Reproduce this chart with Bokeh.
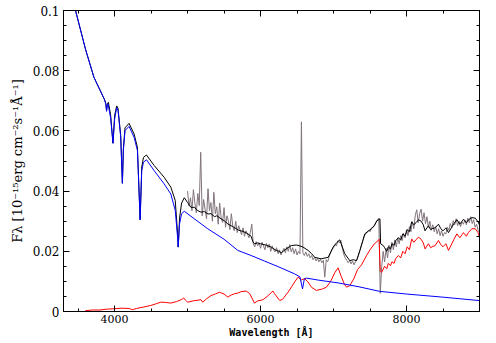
from bokeh.plotting import figure
from bokeh.models import FixedTicker, LinearAxis, CustomJSTickFormatter
from bokeh.embed import file_html
from bokeh.resources import INLINE

# ---- data ----
blue_wl = [3440, 3465, 3603, 3717, 3860, 3880, 3890, 3900, 3910, 3946, 3978, 4001, 4029,
           4047, 4084, 4107, 4120, 4143, 4198, 4267, 4313, 4350, 4372, 4396, 4437, 4542,
           4679, 4771, 4831, 4863, 4872, 4890, 4918, 4955, 5092, 5276, 5500, 5688, 5871,
           6050, 6250, 6467, 6540, 6575, 6600, 6628, 6800, 7063, 7350, 7630, 8000, 8484, 9010]
blue_flux = [0.1030, 0.1000, 0.0870, 0.0778, 0.0705, 0.0690, 0.0665, 0.0685, 0.0690, 0.0642,
             0.0559, 0.0640, 0.0677, 0.0668, 0.0579, 0.0426, 0.0535, 0.0601, 0.0615, 0.0579,
             0.0535, 0.0305, 0.0468, 0.0496, 0.0504, 0.0468, 0.0424, 0.0390, 0.0336, 0.0247,
             0.0214, 0.0291, 0.0325, 0.0333, 0.0308, 0.0275, 0.0240, 0.0203, 0.0186, 0.0168,
             0.0148, 0.0125, 0.0115, 0.0075, 0.0108, 0.0111, 0.0104, 0.0095, 0.0082, 0.0067,
             0.0058, 0.0048, 0.0036]

red_wl = [3600, 3700, 3800, 3900, 3992, 4100, 4200, 4244, 4300, 4400, 4496, 4560, 4634, 4700,
          4771, 4850, 4920, 4946, 4970, 5001, 5090, 5184, 5207, 5260, 5321, 5380, 5436, 5500,
          5551, 5600, 5642, 5700, 5734, 5803, 5850, 5917, 5960, 6032, 6100, 6169, 6192, 6261,
          6300, 6380, 6467, 6513, 6560, 6604, 6651, 6700, 6765, 6850, 6903, 6960, 7020, 7063,
          7100, 7150, 7178, 7223, 7280, 7330, 7384, 7450, 7500, 7560, 7613, 7625, 7640, 7659,
          7700, 7730, 7750, 7780, 7800, 7830, 7850, 7888, 7920, 7950, 7980, 8010, 8040, 8071,
          8100, 8130, 8163, 8200, 8230, 8254, 8300, 8330, 8350, 8392, 8438, 8470, 8500, 8540,
          8575, 8620, 8650, 8690, 8730, 8760, 8780, 8820, 8850, 8896, 8942, 8980, 9010]
red_flux = [0.0003, 0.0005, 0.0005, 0.0008, 0.0009, 0.0011, 0.0010, 0.0006, 0.0010, 0.0015,
            0.0020, 0.0025, 0.0031, 0.0030, 0.0028, 0.0033, 0.0040, 0.0045, 0.0038, 0.0031,
            0.0036, 0.0039, 0.0031, 0.0042, 0.0053, 0.0058, 0.0064, 0.0058, 0.0048, 0.0055,
            0.0059, 0.0062, 0.0066, 0.0068, 0.0060, 0.0028, 0.0035, 0.0039, 0.0052, 0.0068,
            0.0059, 0.0037, 0.0040, 0.0065, 0.0098, 0.0114, 0.0105, 0.0109, 0.0098, 0.0080,
            0.0070, 0.0075, 0.0081, 0.0100, 0.0130, 0.0145, 0.0120, 0.0090, 0.0081, 0.0086,
            0.0110, 0.0140, 0.0155, 0.0185, 0.0205, 0.0225, 0.0236, 0.0240, 0.0135, 0.0130,
            0.0150, 0.0142, 0.0160, 0.0152, 0.0165, 0.0160, 0.0175, 0.0186, 0.0178, 0.0200,
            0.0192, 0.0215, 0.0205, 0.0241, 0.0230, 0.0238, 0.0247, 0.0240, 0.0228, 0.0208,
            0.0225, 0.0212, 0.0215, 0.0219, 0.0236, 0.0222, 0.0215, 0.0225, 0.0203, 0.0225,
            0.0240, 0.0258, 0.0245, 0.0255, 0.0262, 0.0250, 0.0263, 0.0275, 0.0275, 0.0262, 0.0241]

model_wl = [3440, 3465, 3603, 3717, 3860, 3880, 3890, 3900, 3915, 3946, 3978, 4001, 4029,
            4047, 4084, 4107, 4120, 4143, 4198, 4267, 4313, 4350, 4372, 4396, 4437, 4542,
            4679, 4771, 4831, 4863, 4872, 4890, 4918, 4955, 5000, 5046, 5092, 5140, 5184,
            5230, 5280, 5321, 5370, 5400, 5459, 5510, 5551, 5620, 5700, 5760, 5826, 5870,
            5895, 5917, 5960, 6000, 6080, 6146, 6200, 6250, 6284, 6350, 6421, 6490, 6540,
            6582, 6651, 6700, 6742, 6830, 6926, 6994, 7040, 7085, 7154, 7223, 7270, 7315,
            7361, 7400, 7429, 7480, 7521, 7560, 7590, 7636, 7645, 7682, 7700, 7730, 7750,
            7780, 7800, 7830, 7850, 7888, 7920, 7950, 7980, 8010, 8040, 8071, 8100, 8130,
            8163, 8200, 8230, 8254, 8300, 8330, 8350, 8392, 8438, 8470, 8500, 8540, 8575,
            8620, 8650, 8690, 8730, 8760, 8780, 8820, 8850, 8896, 8942, 8980, 9010]
model_flux = [0.1030, 0.1000, 0.0870, 0.0778, 0.0705, 0.0690, 0.0667, 0.0688, 0.0695,
              0.0652, 0.0559, 0.0652, 0.0683, 0.0675, 0.0585, 0.0426, 0.0540, 0.0610,
              0.0625, 0.0590, 0.0545, 0.0305, 0.0480, 0.0512, 0.0520, 0.0485, 0.0446,
              0.0413, 0.0369, 0.0260, 0.0214, 0.0310, 0.0360, 0.0378, 0.0362, 0.0346,
              0.0346, 0.0335, 0.0330, 0.0332, 0.0324, 0.0325, 0.0315, 0.0318, 0.0308,
              0.0300, 0.0291, 0.0282, 0.0270, 0.0266, 0.0258, 0.0250, 0.0232, 0.0225,
              0.0228, 0.0225, 0.0220, 0.0214, 0.0205, 0.0200, 0.0195, 0.0208, 0.0219,
              0.0221, 0.0218, 0.0214, 0.0203, 0.0192, 0.0180, 0.0175, 0.0180, 0.0214,
              0.0228, 0.0238, 0.0192, 0.0169, 0.0172, 0.0169, 0.0203, 0.0235, 0.0258,
              0.0268, 0.0275, 0.0285, 0.0300, 0.0308, 0.0225, 0.0219, 0.0212, 0.0200,
              0.0215, 0.0208, 0.0225, 0.0220, 0.0235, 0.0245, 0.0238, 0.0258, 0.0250,
              0.0272, 0.0265, 0.0298, 0.0288, 0.0295, 0.0305, 0.0300, 0.0288, 0.0268,
              0.0285, 0.0272, 0.0275, 0.0278, 0.0290, 0.0275, 0.0268, 0.0278, 0.0262,
              0.0280, 0.0292, 0.0305, 0.0290, 0.0300, 0.0306, 0.0295, 0.0305, 0.0312,
              0.0310, 0.0298, 0.0282]

obs_wl = list(range(5000, 9001, 20))
obs_flux = [
    0.0400, 0.0350, 0.0378, 0.0335, 0.0405, 0.0360, 0.0328, 0.0392, 0.0352, 0.0529,
    0.0318, 0.0372, 0.0340, 0.0308, 0.0408, 0.0335, 0.0362, 0.0300, 0.0396, 0.0325,
    0.0348, 0.0290, 0.0360, 0.0312, 0.0296, 0.0345, 0.0280, 0.0318, 0.0300, 0.0272,
    0.0325, 0.0282, 0.0268, 0.0300, 0.0262, 0.0285, 0.0270, 0.0255, 0.0278, 0.0250,
    0.0268, 0.0258, 0.0245, 0.0262, 0.0290, 0.0225, 0.0215, 0.0232, 0.0218, 0.0228,
    0.0210, 0.0230, 0.0218, 0.0205, 0.0226, 0.0212, 0.0224, 0.0200, 0.0218, 0.0205,
    0.0198, 0.0212, 0.0192, 0.0205, 0.0188, 0.0200, 0.0210, 0.0195, 0.0215, 0.0200,
    0.0222, 0.0198, 0.0212, 0.0192, 0.0208, 0.0188, 0.0200, 0.0192, 0.0630, 0.0195,
    0.0186, 0.0198, 0.0183, 0.0192, 0.0178, 0.0186, 0.0172, 0.0180, 0.0168, 0.0176,
    0.0165, 0.0174, 0.0162, 0.0170, 0.0114, 0.0172, 0.0165, 0.0182, 0.0195, 0.0205,
    0.0212, 0.0222, 0.0218, 0.0235, 0.0228, 0.0236, 0.0212, 0.0190, 0.0178, 0.0170,
    0.0162, 0.0170, 0.0158, 0.0168, 0.0155, 0.0165, 0.0172, 0.0185, 0.0200, 0.0218,
    0.0232, 0.0250, 0.0258, 0.0262, 0.0270, 0.0265, 0.0278, 0.0280, 0.0288, 0.0295,
    0.0305, 0.0310, 0.0060, 0.0150, 0.0200, 0.0165, 0.0210, 0.0178, 0.0220, 0.0195,
    0.0230, 0.0205, 0.0238, 0.0215, 0.0245, 0.0225, 0.0252, 0.0235, 0.0260, 0.0245,
    0.0272, 0.0252, 0.0282, 0.0265, 0.0298, 0.0275, 0.0320, 0.0338, 0.0295, 0.0325,
    0.0340, 0.0300, 0.0328, 0.0292, 0.0315, 0.0280, 0.0300, 0.0270, 0.0288, 0.0265,
    0.0282, 0.0258, 0.0275, 0.0252, 0.0268, 0.0250, 0.0262, 0.0258, 0.0280, 0.0270,
    0.0292, 0.0278, 0.0302, 0.0288, 0.0308, 0.0285, 0.0300, 0.0282, 0.0298, 0.0290,
    0.0305, 0.0288, 0.0310, 0.0295, 0.0315, 0.0292, 0.0305, 0.0280, 0.0290, 0.0270,
    0.0262]

x_major = [4000, 6000, 8000]
x_minor = [3500, 4500, 5000, 5500, 6500, 7000, 7500, 8500, 9000]
y_major = [0, 0.02, 0.04, 0.06, 0.08, 0.1]
y_minor = [0.005, 0.01, 0.015, 0.025, 0.03, 0.035, 0.045, 0.05, 0.055,
           0.065, 0.07, 0.075, 0.085, 0.09, 0.095]

# ---- figure ----
p = figure(width=496, height=343, x_range=(3300, 9000), y_range=(0, 0.1),
           output_backend="svg", toolbar_location=None,
           min_border_left=63, min_border_right=17, min_border_top=10, min_border_bottom=32,
           x_axis_location=None, y_axis_location=None)
p.xgrid.visible = False
p.ygrid.visible = False
p.outline_line_color = "black"
p.background_fill_color = "white"
p.border_fill_color = "white"

p.line(obs_wl, obs_flux, line_color="#80737c", line_width=1)
p.line(red_wl, red_flux, line_color="#ff0000", line_width=1)
p.line(model_wl, model_flux, line_color="#000000", line_width=1)
p.line(blue_wl, blue_flux, line_color="#0000ff", line_width=1)

serif = "DejaVu Serif"

def style(ax, labels):
    ax.axis_line_color = "black"
    ax.major_tick_line_color = "black"
    ax.minor_tick_line_color = "black"
    ax.major_tick_in = 6
    ax.major_tick_out = 0
    ax.minor_tick_in = 3
    ax.minor_tick_out = 0
    ax.major_label_text_font = serif
    ax.major_label_text_color = "black"
    if not labels:
        ax.formatter = CustomJSTickFormatter(code="return ''")
        ax.major_label_text_font_size = "0px"
        ax.major_label_standoff = 0

xb = LinearAxis(ticker=FixedTicker(ticks=x_major, minor_ticks=x_minor))
style(xb, True)
xb.major_label_text_font_size = "11px"
xb.major_label_standoff = 3
xb.axis_label = "Wavelength [Å]"
xb.axis_label_text_font = "DejaVu Sans Mono"
xb.axis_label_text_font_size = "10px"
xb.axis_label_text_font_style = "bold"
xb.axis_label_text_color = "black"
xb.axis_label_standoff = 1
p.add_layout(xb, "below")

xt = LinearAxis(ticker=FixedTicker(ticks=x_major, minor_ticks=x_minor))
style(xt, False)
p.add_layout(xt, "above")

yl = LinearAxis(ticker=FixedTicker(ticks=y_major, minor_ticks=y_minor))
style(yl, True)
yl.major_label_text_font_size = "12px"
yl.major_label_standoff = 4
yl.formatter = CustomJSTickFormatter(
    code="if (tick == 0) { return '0'; } var s = tick.toFixed(2); return s.replace(/0$/, '');")
yl.axis_label = "Fλ [10⁻¹⁵erg cm⁻²s⁻¹Å⁻¹]"
yl.axis_label_text_font = serif
yl.axis_label_text_font_size = "13px"
yl.axis_label_text_font_style = "normal"
yl.axis_label_text_color = "black"
yl.axis_label_standoff = 5
p.add_layout(yl, "left")

yr = LinearAxis(ticker=FixedTicker(ticks=y_major, minor_ticks=y_minor))
style(yr, False)
p.add_layout(yr, "right")

open("out.html", "w").write(file_html(p, INLINE))
